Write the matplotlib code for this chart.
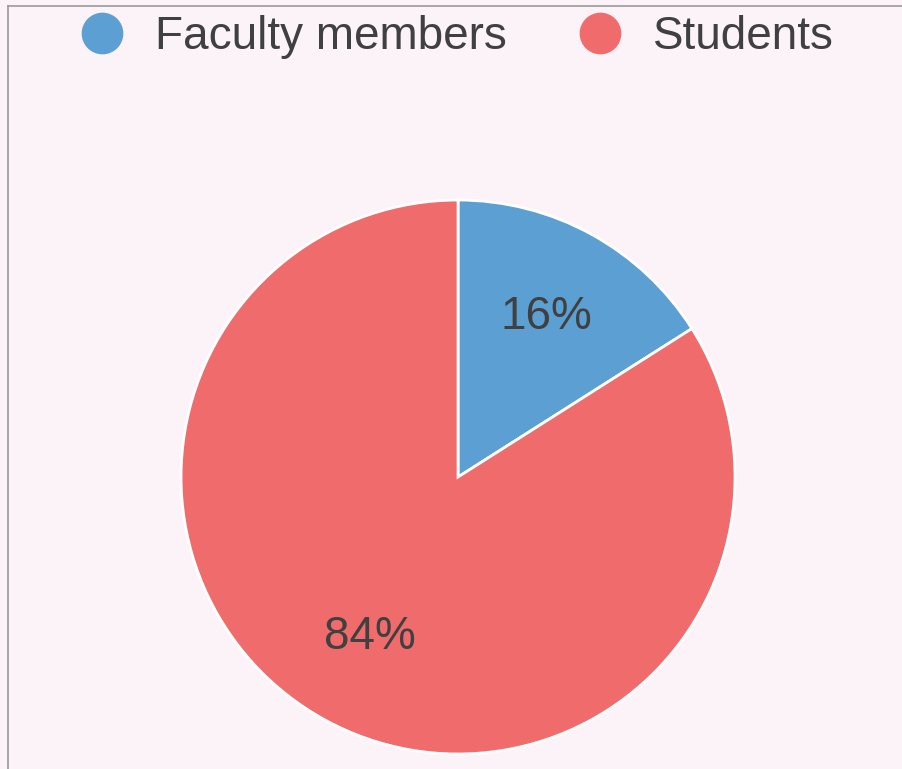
import matplotlib.pyplot as plt
from matplotlib.lines import Line2D

plt.rcParams['font.family'] = ['Liberation Sans', 'DejaVu Sans']

labels = ['Faculty members', 'Students']
shares = [16, 84]
colors = ['#5b9fd3', '#ef6b6c']
bg = '#fcf3f8'

fig = plt.figure(figsize=(9.02, 7.69), dpi=100)
fig.patch.set_facecolor(bg)

# thin frame of the scanned box (only left and top edges are visible)
fig.add_artist(Line2D([8 / 902, 8 / 902], [0, 1 - 6 / 769], transform=fig.transFigure,
                      color='#9a9a9a', lw=1.2))
fig.add_artist(Line2D([8 / 902, 1], [1 - 6 / 769, 1 - 6 / 769], transform=fig.transFigure,
                      color='#9a9a9a', lw=1.2))

ax = fig.add_axes([0.2007, 0.0195, 0.6142, 0.7204])
ax.set_facecolor(bg)
wedges, texts, autotexts = ax.pie(
    shares, colors=colors, startangle=90, counterclock=False,
    autopct='%d%%', pctdistance=0.66, radius=1,
    wedgeprops=dict(edgecolor='white', linewidth=2),
    textprops=dict(color='#404040', fontsize=33))
ax.set_xlim(-1.0, 1.0)
ax.set_ylim(-1.0, 1.0)
ax.set_aspect('equal')
ax.axis('off')

handles = [Line2D([], [], marker='o', linestyle='', markersize=29,
                  markerfacecolor=c, markeredgecolor=c) for c in colors]
fig.legend(handles, labels, loc='center', bbox_to_anchor=(0.5036, 1 - 37 / 769),
           ncol=2, frameon=False, fontsize=33, labelcolor='#404040',
           handletextpad=0.55, columnspacing=1.43, handlelength=1.2)

fig.savefig('out.png', dpi=100, facecolor=bg)
